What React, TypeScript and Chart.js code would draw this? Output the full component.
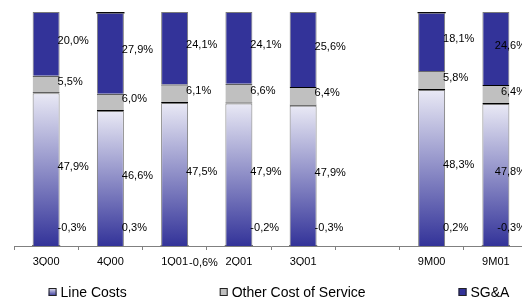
import React, { useEffect, useRef } from 'react';
import { Chart, registerables } from 'chart.js';

Chart.register(...registerables);

const categories = ['3Q00', '4Q00', '1Q01', '2Q01', '3Q01', '', '9M00', '9M01'];
const lineCosts = [47.9, 46.6, 47.5, 47.9, 47.9, null, 48.3, 47.8];
const otherCostOfService = [5.5, 6.0, 6.1, 6.6, 6.4, null, 5.8, 6.4];
const sgaValues = [20.0, 27.9, 24.1, 24.1, 25.6, null, 18.1, 24.6];
const otherItems = [-0.3, 0.3, -0.6, -0.2, -0.3, null, 0.2, -0.3];
const seriesNames = ['Line Costs', 'Other Cost of Service', 'SG&A', 'Other'];

const rawSeries: (number | null)[][] = [lineCosts, otherCostOfService, sgaValues, otherItems];
const totals = categories.map((_, i) =>
  rawSeries.reduce((s, arr) => s + (arr[i] !== null && (arr[i] as number) > 0 ? (arr[i] as number) : 0), 0)
);
const normalized = rawSeries.map((arr) =>
  arr.map((v, i) => (v === null || totals[i] === 0 ? null : (v / totals[i]) * 100))
);

const FONT = '"Liberation Sans", Arial, sans-serif';
const DARK = '#333399';
const GRAY = '#C0C0C0';
const EDGE = '#7a7a7a';

const fmt = (v: number) => v.toFixed(1).replace('.', ',') + '%';

const lineGradient = (chart: any, top: number, bottom: number) => {
  const g = chart.ctx.createLinearGradient(0, top, 0, bottom);
  g.addColorStop(0, '#E9E9F5');
  g.addColorStop(1, DARK);
  return g;
};

const labelPlugin = {
  id: 'valueLabels',
  afterDatasetsDraw(chart: any) {
    const ctx = chart.ctx;
    const area = chart.chartArea;
    ctx.save();
    ctx.font = `11px ${FONT}`;
    ctx.fillStyle = '#000';
    ctx.textBaseline = 'middle';
    ctx.textAlign = 'left';
    rawSeries.forEach((arr, di) => {
      const meta = chart.getDatasetMeta(di);
      meta.data.forEach((bar: any, i: number) => {
        const v = arr[i];
        if (v === null || v === undefined) return;
        const p = bar.getProps(['x', 'y', 'base', 'width'], true);
        const text = fmt(v);
        const w = ctx.measureText(text).width;
        let left = p.x + p.width / 2 - 2;
        if (left + w > 526) left = 526 - w;
        let y: number;
        if (di < 3) {
          y = (p.y + p.base) / 2 - 3;
        } else if (v < -0.5) {
          y = area.bottom + 17;
          left = p.x + p.width / 2 + 1;
        } else {
          y = area.bottom - 18;
        }
        ctx.fillText(text, left, y);
      });
    });
    ctx.restore();
  },
};

const legendPlugin = {
  id: 'spreadLegend',
  afterDraw(chart: any) {
    const ctx = chart.ctx;
    ctx.save();
    ctx.font = `14px ${FONT}`;
    ctx.textBaseline = 'middle';
    ctx.textAlign = 'left';
    const items = chart.data.datasets.slice(0, 3);
    const box = 8;
    const gapText = 4;
    const gapItems = 93;
    const widths = items.map((d: any) => box + gapText + ctx.measureText(d.label).width);
    const total = widths.reduce((a: number, b: number) => a + b, 0) + gapItems * (items.length - 1);
    let x = 279 - total / 2;
    const cy = 292;
    items.forEach((d: any, i: number) => {
      const top = cy - box / 2;
      if (i === 0) {
        ctx.fillStyle = lineGradient(chart, top, top + box);
      } else {
        ctx.fillStyle = d.legendColor;
      }
      ctx.fillRect(x, top, box, box);
      ctx.strokeStyle = '#222';
      ctx.lineWidth = 1;
      ctx.strokeRect(x + 0.5, top + 0.5, box - 1, box - 1);
      ctx.fillStyle = '#000';
      ctx.fillText(d.label, x + box + gapText, cy + 1);
      x += widths[i] + gapItems;
    });
    ctx.restore();
  },
};

export default function App() {
  const ref = useRef<HTMLCanvasElement>(null);
  useEffect(() => {
    const chart = new Chart(ref.current as HTMLCanvasElement, {
      type: 'bar',
      data: {
        labels: categories,
        datasets: [
          {
            label: seriesNames[0],
            data: normalized[0],
            legendColor: DARK,
            borderColor: EDGE,
            borderWidth: 1,
            backgroundColor: (c: any) => {
              const ch = c.chart;
              if (!ch.chartArea || c.type !== 'data' || c.raw === null) return '#9999CC';
              const ys = ch.scales.y;
              return lineGradient(ch, ys.getPixelForValue(c.raw), ys.getPixelForValue(0));
            },
          } as any,
          {
            label: seriesNames[1],
            data: normalized[1],
            backgroundColor: GRAY,
            legendColor: GRAY,
            borderColor: '#000',
            borderSkipped: false,
            borderWidth: { top: 1, bottom: 1, left: 0, right: 0 },
          } as any,
          {
            label: seriesNames[2],
            data: normalized[2],
            backgroundColor: DARK,
            legendColor: DARK,
            borderColor: EDGE,
            borderWidth: 1,
          } as any,
          {
            label: seriesNames[3],
            data: normalized[3],
            backgroundColor: '#000000',
            legendColor: '#000',
            borderWidth: 0,
            inflateAmount: 0.6,
          } as any,
        ],
      },
      options: {
        animation: false,
        responsive: false,
        devicePixelRatio: 1,
        layout: { padding: { left: 14, right: 22, top: 12, bottom: 35 } },
        datasets: {
          bar: {
            categoryPercentage: 1,
            barPercentage: 0.42,
          },
        },
        plugins: {
          legend: { display: false },
          tooltip: { enabled: false },
        },
        scales: {
          x: {
            stacked: true,
            grid: {
              display: true,
              offset: true,
              drawOnChartArea: false,
              drawTicks: true,
              tickLength: 4,
              color: '#808080',
            },
            border: { display: true, color: '#808080', width: 1 },
            ticks: {
              color: '#000',
              font: { family: FONT, size: 11 },
              padding: 5,
              maxRotation: 0,
              autoSkip: false,
            },
            afterFit: (axis: any) => {
              axis.height = 20;
            },
          },
          y: {
            stacked: true,
            display: false,
            min: 0,
            max: 100,
          },
        },
      },
      plugins: [labelPlugin, legendPlugin],
    } as any);
    return () => chart.destroy();
  }, []);
  return (
    <div
      style={{
        position: 'absolute',
        left: 0,
        top: 0,
        width: 522,
        height: 301,
        overflow: 'hidden',
        background: '#fff',
      }}
    >
      <canvas ref={ref} width={550} height={301} style={{ display: 'block', width: 550, height: 301 }} />
    </div>
  );
}
